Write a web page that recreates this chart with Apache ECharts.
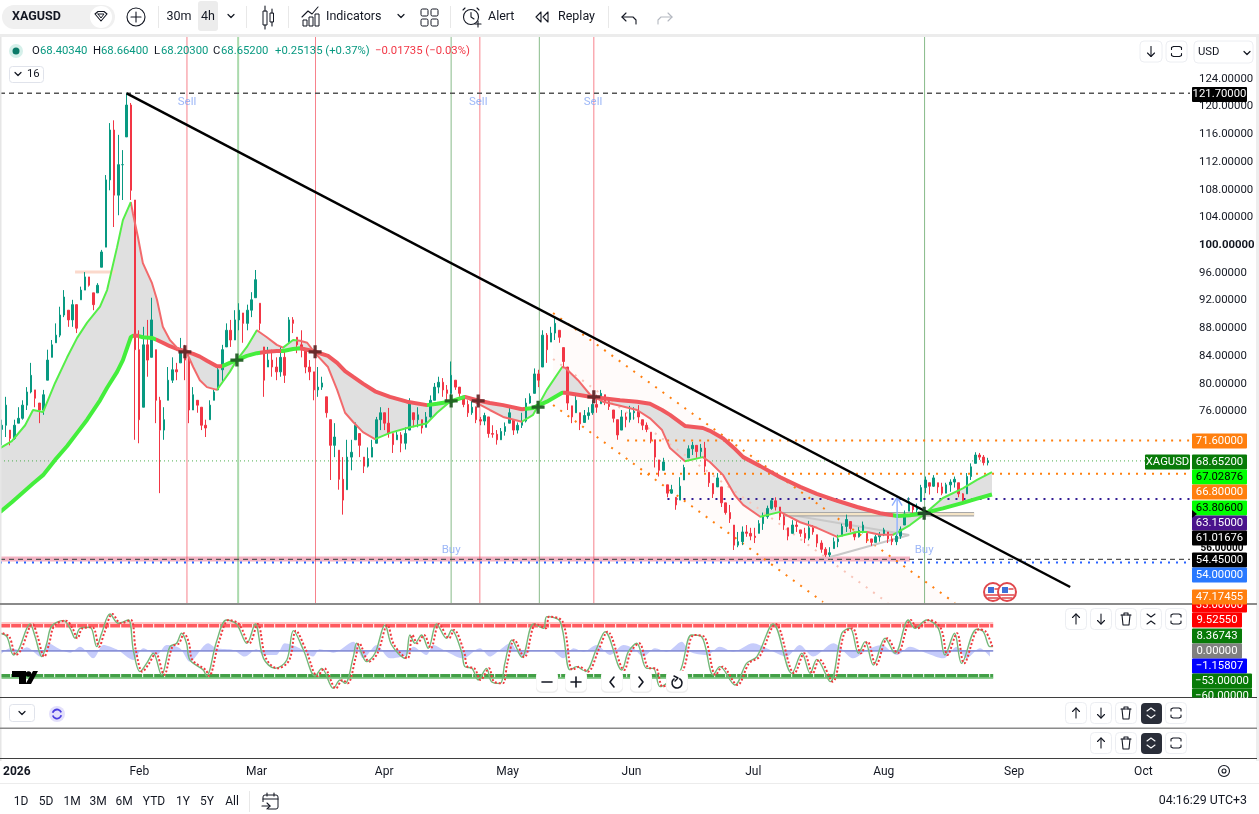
<!DOCTYPE html>
<html><head><meta charset="utf-8"><title>XAGUSD</title>
<style>html,body{margin:0;padding:0;background:#fff}#c{width:1259px;height:814px}</style>
<script src="https://cdn.jsdelivr.net/npm/echarts@6/dist/echarts.min.js"></script></head>
<body><div id="c"></div><script>
// Candles: one bar per day, first bar is day -1 (days counted from 1 Jan 2026)
const barStartDay = -1;
const barHigh = [74.6,77.9,73.1,74.6,76.4,77.4,79.3,82.8,78.9,77,78.9,84.7,86.1,88.5,90.9,93.3,90.4,91.9,91.2,93.8,95.9,95.2,92.9,94.3,99.1,109.9,117.4,117.8,115.7,113.5,121.7,120.3,106.3,87.5,88,89,92.2,84.7,77.9,76.4,82.2,83.6,82.8,86.4,85.4,84.2,79.3,77.4,76.4,74.6,77.4,78.9,82.5,85.4,88.5,89,90.4,91.4,90,91.2,93,96.2,91.4,85.1,85.1,84.7,83.6,85.1,84.7,89.4,89.4,86.5,87.5,84.7,83.2,81.5,82.2,80.8,77.9,74.6,74.1,70.2,69.2,71.7,71.7,74.2,72.6,69.2,70.6,71.7,75,76.4,75.6,76.3,72.6,73.1,72.8,73.5,77.7,75.6,76.4,74.6,75.7,78.1,79.9,80.8,80.6,79.6,83,80.3,79.3,78,77.4,77.4,76.5,75,75.6,75,73.8,73.1,73.4,74.2,76.4,74.6,74.2,75.6,77.7,78.4,82,81.8,87.5,87.1,88,89.5,87.5,85,82.2,76.6,78.4,75.6,76,76.4,77.4,78.2,78.9,78.2,77.4,76,74.6,76,75.6,76.6,76.4,76.7,74.6,74.2,72.8,71.7,68.8,69.1,65.2,65.2,63.4,66.3,68.1,70.9,71.4,70.9,71.1,71.4,67,65.4,66.9,64.9,62.6,62.3,59.4,58.4,59.2,59.4,59,59,60.1,61.2,62.2,63.3,63.4,62,61,59,60.1,60.1,58.7,59,60,59.4,58,57.2,56.2,56.2,57.6,58,59.6,60.9,59.9,58.4,59.1,59.9,58.2,57.4,58,58.4,59,58.4,57.8,58.4,59.2,61.5,63.4,62.2,62.5,65.2,66.4,65.5,66.6,65.5,65.5,65.5,66,66.4,65.5,64,66.9,68.3,69.9,69.8,69.5,69.1];
const barLow = [70.9,72.1,70.9,71.7,74.1,74.6,76,78.4,76.4,74.1,75.3,80.3,83.6,85.7,86.5,89.4,88,88,87.1,91.9,93.3,93.8,90.4,92.9,96.6,99.5,107.7,102.4,104.1,106.3,115.4,106.3,71.7,71.2,76.4,80.8,83.6,74.1,64,71.7,77.4,79.9,80.3,82.8,80.3,74.1,76,75.6,73.1,72.1,74.6,77.4,78.9,79.9,85.1,85.1,86.1,87.5,85.7,87.5,89.4,92.2,87.5,77.9,82.2,80.8,80.3,80.8,79.9,85.7,87.1,84.2,83.6,81.3,80.3,77.4,77.9,78.9,74.9,65.9,69.2,64.5,60.9,64.5,67.3,71.7,69.2,66.9,67.7,69.2,71.2,73.1,73.1,72,69.8,71.7,69.9,70.3,73.1,73.5,73.5,72.6,73.5,74.9,77.4,78.4,77.9,77,77.4,78.9,77.9,76.4,75,75.3,74.1,73.8,73.8,72,72,71,71.7,72.3,74.1,72.4,72.6,73.4,74.2,76.9,78.4,79.3,82.2,82.8,85.8,86.1,85.7,82.2,76,74.1,75.6,73.1,74.2,74.6,75.3,75.6,76.9,76.7,76,74.2,71.7,73.1,73.5,74.2,74.6,74.1,73.1,72.8,71.2,67.7,66.4,67.3,63.4,63.9,61.6,63,65.9,69.1,69.5,69.1,69.1,67,64.9,63.3,64.9,62,60.9,59.7,55.8,56.2,56.5,57.7,57.2,56.8,58.2,58.7,60.3,61.6,61.5,60.1,58.7,57.2,58.2,58.4,57.7,56.8,57.2,58,56.2,55.4,54.8,54.8,56,56.2,57.8,58.4,58.4,57.2,57.6,58.2,56.8,56.4,56.9,57,57.8,56.8,56.5,56.5,57.4,59.4,61.4,61,61.1,62.8,64,63.8,64.9,64,63.7,64,64.2,64.8,63.4,62.4,63.9,65.9,68.3,68.8,68,68];
const barClose = [73.8,76.7,71.9,73.8,74.8,76.7,78.6,81,77.7,76,78.2,83.2,85.4,86.8,89.7,92.3,89,91.2,87.8,93.3,95.2,94,91.2,94,98.8,109.2,116.4,107,111.4,111.4,120,107.7,84.7,74.6,85.4,83.2,89,77.4,73.1,74.6,80.3,81.8,81.5,84.7,83.2,76,78.2,76.7,73.8,73.4,76.7,78.6,81.8,84.7,87.5,86.1,89,90.4,88.5,90.4,91.9,94.8,88.5,80.3,83.2,82.2,81.5,83.6,81,89,88.5,85.4,84.7,82.2,81.5,78.9,79.3,79.9,75.6,70.9,72.1,66,63,69.2,69.9,73.8,70.9,67.9,69,70.6,74.6,75.6,74.1,72.6,71,72.4,71.2,72.6,77,74.6,75.3,73.4,75,77.4,79.3,80,78.9,78.4,81,79.3,78.4,76.8,75.6,76.4,74.6,74.4,75.2,72.6,72.5,71.7,72.9,73.6,75.6,73.1,73.8,74.4,77,78,81.2,80.3,86.8,84.7,87.1,88.5,86.5,83,77,75,77.4,74,75.2,75.6,76.8,76.4,78.4,77.2,76.5,74.8,72.4,75,74.6,75.6,75.8,75,73.8,73.2,71.7,69.2,67.3,68.5,64,64.5,62.3,65,67.7,70.4,70.9,70,70.5,67.9,65.5,63.9,66.2,62.6,61.2,60.3,56.5,57,58.4,58.2,57.8,57.6,59.6,60.6,61.8,62.9,62,60.6,59.4,57.8,59.4,59.2,58.2,57.5,59,58.4,56.8,55.9,55.1,55.4,57,57.4,59.2,60.2,58.9,57.7,58.6,59.4,57.4,56.9,57.7,58,58.7,57.4,57,57.8,58.8,61,62.8,61.6,62,64.8,65.9,65,66.2,64.9,64,65.2,65.6,66,63.9,62.9,66.4,67.8,69.5,69.2,68.4,68.65];

// Moving averages (shared day knots)
const maDays = [-1.4,1.4,4.6,6.5,8.9,11.8,14.7,17.1,19.5,22.6,24.3,26.7,28.1,30,30.5,31.7,32.9,35.1,36.3,37.7,39.4,41.1,43.5,45,46.6,48.3,50.7,51.9,53.8,55.5,57.9,60.3,62.7,65.1,66.6,69,70.7,72.4,74.3,77.4,79.6,81.5,83.4,85.8,88.7,92.3,96.4,101.2,103.6,106.7,110.3,113.2,116.3,119.5,124,126.7,130,133.7,134.4,137.5,140.4,143.5,147.6,151.7,154.8,157.7,159.6,163.2,167.5,169.2,172.4,175.2,177.2,181.3,186.1,190.9,194.9,199.8,204.6,207,210.1,213.2,214.2,217.3,220.4,225.2,230,233.4,237];
const maFast = [70.5,71.5,73.8,76,75.7,79.9,83.6,86.4,88.6,90.9,93.3,99.5,103.4,106,104.4,101,97.2,94.3,91.9,88,86.1,85,84.2,82.2,80.3,79.3,78.9,79.9,81.5,83.2,85.1,87.5,86.5,85.4,85,86.1,86,85.7,84.2,82.2,78.9,75.6,74.3,72.8,71.8,72.7,73.4,74.1,75.6,77.2,77.9,77,76,75,74.3,75.3,78.9,82.2,82.1,80.3,78.2,77.2,76.6,76,74.8,73.1,70.5,68.6,69.2,68.5,66.6,63.7,62.3,60.6,61.3,59.8,59,57.7,58.4,58.4,58,58,58.3,59.4,60.8,63.3,64.7,65.9,67.03];
const maSlow = [61.3,62.7,64.4,65.4,66.6,68.8,70.8,72.7,74.6,77.4,79.2,81.5,83.2,86.5,86.7,86.7,86.5,86.4,86.1,85.7,85.2,84.8,84.4,84.1,83.7,83.1,82.3,82.3,82.8,83.2,83.8,84.2,84.4,84.5,84.5,84.8,84.9,84.7,84.4,83.8,82.8,81.6,80.8,79.8,78.7,77.9,77.2,76.7,76.9,77.2,77.9,77.4,77,76.7,76.1,76.3,77.2,78.5,78.5,78.2,77.9,77.7,77.4,77.2,76.9,76,75.3,73.7,73.4,73,71.9,70.4,69.2,67.9,66.3,64.9,63.9,62.9,62,61.6,61.1,60.8,60.7,60.8,61.1,61.8,62.6,63.2,63.81];
const fastGreen = [[-2,30],[50.7,60.3],[66.6,70],[88.7,110.3],[124,133.7],[163.2,167.5],[181.3,186.1],[199.8,207],[213.2,238]];
const slowGreen = [[-2,30.5],[32,36],[51.9,61],[66,70.7],[101.2,110.3],[124.7,134],[213.2,238]];

// Indicator pane
const rsiDays = [-1.4,.2,1.8,3,5.8,7,8.6,9.8,11,13.8,15.4,16.6,17.8,20.2,21.8,23,25,27,29.4,30.6,32.2,33.8,35.4,37.4,39.4,41,42.2,43.4,44.2,47.4,48.2,50.6,53,55.4,57.9,59.9,61.9,64.7,67.5,69.1,71.5,74.3,75.9,78.7,80.3,81.5,83.5,84.3,86.7,88.7,91.1,92.7,95.9,97.1,98.3,99.9,101.5,103.5,105.9,107.1,109.5,110.3,112,113.5,115.5,116.7,118.8,119.9,121.6,124,126.8,129.2,130,133.2,135.6,137.2,139.2,142,144,148,149.6,151.6,154,155.6,157.2,158.8,162,164.8,167.2,170,171.6,175.2,178,180.5,184.4,188.9,191.3,193.3,194.9,198.1,200.9,202.9,204.9,206.5,208.5,211.3,213.7,216.9,218.5,221.3,224.1,225.7,228,229.7,233.3,234.9,236.5,237.2];
const rsiValues = [20.1,14.3,-17.2,-8.6,36.1,14.3,-20.1,2.9,32.7,41.9,28.7,11.5,28.7,30.4,-2.9,20.1,53.3,37.3,43,-8.6,-45.9,-31.6,-14.3,-51.6,-2.9,2.9,20.1,2.9,-25.8,-43,-53.4,5.7,43,36.1,2.9,36.1,-23,-40.2,-25.8,24.7,-8.6,-53.4,-40.2,-74.6,-60.2,-66,-20.1,2.9,-28.7,-14.3,34.4,0,-23,17.2,2.9,17.2,-5.7,36.1,11.5,25.8,-11.5,-37.3,-40.2,-60.2,-40.2,-63.1,-66,-31.6,8.6,-21.2,36.1,28.7,48.8,40.2,-43,-37.3,-45.9,-5.7,22.9,-43,-11.5,2.9,-40.2,-40.2,-71.7,-66,-45.9,17.2,14.3,-51.6,-37.3,-68.8,-31.6,-20.1,36.1,-48.8,-14.3,-48.8,-24.7,-63.1,20.1,28.7,-14.3,5.7,-34.4,11.5,-14.3,43,28.7,43,28.7,-17.2,20.1,-31.6,27,23,-2.9,-2.9];
const signalLagDays = 0.6;
const oscDays = [-1.4,1,3.4,5,8.2,10.2,13,15.4,17.8,21,23.4,26.6,30.6,33,36.2,38.6,41.8,44.2,48.6,50.6,54.6,57.4,60.2,61.8,65,67,70.6,73.8,75.4,78.7,83.5,85.9,89.1,92.3,96.3,97.9,101.1,102.7,105.9,109.9,113.9,116.3,118.7,121.2,124,126.8,130.8,134,136.4,138.8,142,145.2,148.4,150.8,153.2,156,158.8,162.4,164.4,168.4,171.6,174.8,179.6,182.8,187.6,190.8,194,198.9,203.7,206.9,210.5,214.1,217.3,221.3,225.3,228.5,230.9,234.1,236.5];
const oscValues = [-17.2,-5.7,-8.6,-4,-20,2.9,-7.5,-13.2,-2.9,-23,0,-7.5,-25.8,-5.7,-17.2,0,-5.7,-28.7,2.9,-5.7,-8.6,-20,-7.5,-17.2,-17.2,2.9,-5.7,-20,-7.5,-13.2,5.7,-23,0,-23,-17.2,-2.9,-17.2,0,-11.5,-23,-5.7,-20,-8.6,2.9,-20,-8.6,-8.6,-23,-5.7,-11.5,0,-17.2,0,-5.7,-20,-5.7,-11.5,5.7,-11.5,-17.2,-2.9,-11.5,2.9,-5.7,-20,0,-20,2.9,-23,-8.6,0,-17.2,-2.9,-14.3,-23,-2.9,-23,-5.7,-20];
const oscMid = -10.2, upperBand = 33, upperPale = 38, lowerBand = -53, lowerPale = -57;

// Levels and drawings, [day, price]
const firstDay = -1.44, lastDay = 284.6;
const topLevel = 121.7, resistA = 71.6, resistB = 66.8, pivot = 63.15, lastPrice = 68.652, supportA = 54.45, supportB = 54;
const trendLine = [[29,121.7],[255.8,50.46]];
const channelUpper = [[131.5,89.99],[228.1,48.15]];
const channelMiddle = [[131.5,83.36],[212,48.15]];
const channelLower = [[131.5,76.72],[196.4,48.29]];
const triangleLow = [[198.1,54.78],[217.1,57.96]];
const triangleTop = [[187.3,60.99],[217.1,57.96]];
const arrowShaft = [[214.2,57.96],[214.2,63.4]];
const arrowHead = [[213,62.2],[214.2,63.4],[215.4,62.2]];
const box = [[186.8,60.97],[232.7,60.97]];
const supportBand = [[-1.44,54.5],[217.3,54.5]];
const paleMark = [[16.6,95.9],[26.2,95.9]];
const crossPoints = [[43,84.4],[55.5,83.2],[74.3,84.4],[107,77.3],[113.5,77.3],[127.9,76.4],[141.3,77.9],[220.7,61.1]];
const crossColors = ['#5e2626','#1e5a22','#5e2626','#1e5a22','#5e2626','#1e5a22','#5e2626','#22442a'];
const redVerticals = [43.5,74.4,113.9,141.3];
const greenVerticals = [107,128.2,220.8];
const wideGreenVerticals = [55.8];
const sellPoints = [[43.5,120.4],[113.5,120.4],[141.1,120.4]];
const buyPoints = [[107,55.8],[220.7,55.8]];

const tickPrices = [124,120,116,112,108,104,100,96,92,88,84,80,76];
const monthNames = ['2026','Feb','Mar','Apr','May','Jun','Jul','Aug','Sep','Oct'];
const monthDays = [0.4,30.1,58.5,89.4,119.3,149.3,178.8,210.4,242,273.3];

const tagTexts = ['71.60000','68.65200','67.02876','66.80000','63.80600','63.15000','61.01676','54.45000','54.00000'];
const tagFills = ['#ff7f0e','#087a08','#00ff00','#ff7f0e','#00ff00','#4a148c','#000000','#000000','#2979ff'];
const tagInks = ['#fff','#fff','#000','#fff','#000','#fff','#fff','#fff','#fff'];
const tagRows = [441,462,477,492,508,523,538,560,575];
const oscTagTexts = ['33.00000','47.17455','9.52550','8.36743','0.00000','\u22121.15807','\u221253.00000','\u221260.00000'];
const oscTagFills = ['#ff0000','#ff7f0e','#ff0000','#087a08','#808080','#0000ff','#087a08','#087a08'];
const oscTagRows = [605,597,620,636,651,666,681,696];
const oscTagWidths = [55,55,50,50,50,55,60,60];
const rangeNames = ['1D','5D','1M','3M','6M','YTD','1Y','5Y','All'];
const rangeCenters = [21,46,72,98,124,154,183,207,232];

const TEAL='#089981', RED='#f23645', INK='#131722', F='Roboto,"Noto Sans",sans-serif', SMALL='11.3px '+F;
const g=[]; let Z=100;
const R=(x,y,w,h,fill,stroke,r)=>g.push({type:'rect',silent:true,z:Z,shape:{x,y,width:w,height:h,r:r||0},style:{fill:fill||'none',stroke:stroke||'none',lineWidth:1}});
const C=(cx,cy,r,fill,stroke,lw)=>g.push({type:'circle',silent:true,z:Z,shape:{cx,cy,r},style:{fill:fill||'none',stroke:stroke||'none',lineWidth:lw||1}});
const L=(pts,stroke,lw,fill)=>g.push({type:fill?'polygon':'polyline',silent:true,z:Z,shape:{points:pts},style:{stroke:stroke||'none',lineWidth:lw||1.1,fill:fill||'none',lineCap:'round',lineJoin:'round'}});
const T=(text,x,y,fill,font,align)=>g.push({type:'text',silent:true,z:Z,x,y,style:{text,fill:fill||INK,font:font||('12.5px '+F),align:align||'left',verticalAlign:'middle',textAlign:align||'left',textVerticalAlign:'middle'}});
function btn(x,y,w,h){R(x-w/2,y-h/2,w,h,'#fff','#eceef2',4)}
function upA(x,y){L([[x,y+5],[x,y-5]],INK);L([[x-3.5,y-1.5],[x,y-5],[x+3.5,y-1.5]],INK)}
function dnA(x,y){L([[x,y-5],[x,y+5]],INK);L([[x-3.5,y+1.5],[x,y+5],[x+3.5,y+1.5]],INK)}
function trash(x,y){L([[x-5,y-4],[x+5,y-4]],INK);L([[x-2,y-4],[x-2,y-6],[x+2,y-6],[x+2,y-4]],INK);L([[x-4,y-4],[x-3,y+6],[x+3,y+6],[x+4,y-4]],INK)}
function maxi(x,y){L([[x-5,y-2],[x-5,y-4],[x-3,y-5],[x+3,y-5],[x+5,y-4],[x+5,y-2]],INK);L([[x-5,y+2],[x-5,y+4],[x-3,y+5],[x+3,y+5],[x+5,y+4],[x+5,y+2]],INK)}
function collapse(x,y){L([[x-4,y-5],[x,y-2],[x+4,y-5]],INK);L([[x-4,y+5],[x,y+2],[x+4,y+5]],INK)}
function expandW(x,y){L([[x-4,y-2],[x,y-5],[x+4,y-2]],'#fff');L([[x-4,y+2],[x,y+5],[x+4,y+2]],'#fff')}
function chev(x,y,col){L([[x-3,y-1.5],[x,y+1.5],[x+3,y-1.5]],col||INK,1.2)}

// backgrounds / separators
R(0,34,1259,3,'#ececec');R(0,37,1.5,724,'#e6e6e6');R(1256,37,3,724,'#eeeeee');
R(0,603,1257,2,'#8a8a8a');R(0,697,1257,1,'#3f3f3f');R(0,727.5,1257,1.5,'#8a8a8a');R(0,758,1257,1,'#3f3f3f');R(0,783,1259,1,'#ececec');

// toolbar
R(2,5,113,24,'#f0f0f0',null,12);T('XAGUSD',12,17,INK,'bold 12.5px '+F);
C(101,17,11,'#fff');L([[95,14],[98,11.5],[104,11.5],[107,14],[101,21],[95,14]],INK,1.1);L([[98,14],[104,14],[101,18],[98,14]],INK,1);
C(136,17,9,null,INK,1.1);L([[131,17],[141,17]],INK);L([[136,12],[136,22]],INK);
R(158,6,1,22,'#e8e8e8');T('30m',179,17,INK,'12.5px '+F,'center');
R(198,1,20,30,'#ececec',null,3);T('4h',208,17,INK,'12.5px '+F,'center');chev(231,16);R(246,6,1,22,'#e8e8e8');
R(263,11,4,14,'none',INK);L([[265,6],[265,11]],INK);L([[265,25],[265,29]],INK);R(270,13,3.5,9,'none',INK);L([[272,9],[272,13]],INK);L([[272,22],[272,26]],INK);
R(288,6,1,22,'#e8e8e8');
L([[302,17],[308,11],[312,14],[318,7]],INK);R(303,20,4,6,'none',INK);R(309,17,4,9,'none',INK);R(315,14,4,12,'none',INK);
T('Indicators',326,17);chev(401,16);
[[421,9],[431,9],[421,19],[431,19]].forEach(p=>R(p[0],p[1],7,7,'none',INK,1.5));R(450,6,1,22,'#e8e8e8');
C(471,17,7.5,null,INK,1.1);L([[471,12.5],[471,17],[474,19]],INK);L([[463,10],[465,8]],INK);L([[477,8],[479,10]],INK);L([[475,24],[481,24]],INK);L([[478,21],[478,27]],INK);T('Alert',488,17);
L([[541,12],[536,17],[541,22],[541,12]],INK);L([[548,12],[543,17],[548,22],[548,12]],INK);T('Replay',558,17);R(608,6,1,22,'#e8e8e8');
L([[626,13],[622,17],[626,21]],INK);L([[622,17],[633,17],[636,20],[636,24]],INK);
L([[668,13],[672,17],[668,21]],'#b4b8c0');L([[672,17],[661,17],[658,20],[658,24]],'#b4b8c0');

// top status line
C(16,51,7,'#d5f0ea');C(16,51,3.5,'#0b7a68');
T('O',32,51,INK,SMALL);T('68.40340',40,51,TEAL,SMALL);T('H',93,51,INK,SMALL);T('68.66400',101,51,TEAL,SMALL);T('L',154,51,INK,SMALL);T('68.20300',161,51,TEAL,SMALL);T('C',213,51,INK,SMALL);T('68.65200',221,51,TEAL,SMALL);
T('+0.25135 (+0.37%)',275,51,TEAL,SMALL);T('\u22120.01735 (\u22120.03%)',375,51,RED,SMALL);
R(9.5,66.5,34,16,'#fff','#e0e3eb',3);chev(18,74);T('16',27,74,INK,SMALL);

// main pane buttons
btn(1151,51.5,22,21);dnA(1151,51.5);btn(1176.5,51.5,21,21);maxi(1176.5,51.5);R(1194,41,59,22,'#fff','#eceef2',4);T('USD',1198,52,INK,SMALL);chev(1247,53);

// flags
[[993,592],[1007,592]].forEach(p=>{C(p[0],p[1],9,'#fff','#e0474c',2);L([[p[0]-7,p[1]+3],[p[0]+7,p[1]+3]],'#e0474c',1.5);L([[p[0]-5,p[1]+6],[p[0]+5,p[1]+6]],'#e0474c',1.5);R(p[0]-5,p[1]-5,6,6,'#3f6fd8');L([[p[0]+2,p[1]-3],[p[0]+6,p[1]-3]],'#e0474c',1.5)});

// tags on the price axis
R(1196,544,52,9,'#fff');T('56.00000',1222,548,'#000','bold 10px '+F,'center');
tagTexts.forEach((t,i)=>{R(1192,tagRows[i]-7.5,55,15,tagFills[i],null,1);T(t,1219.5,tagRows[i],tagInks[i],SMALL,'center')});
R(1192,87,55,15,'#000',null,1);T('121.70000',1219.5,94,'#fff',SMALL,'center');
R(1145,454.5,45,15,'#087a08',null,1);T('XAGUSD',1167.5,462,'#fff',SMALL,'center');
L([[1192,510],[1197,514],[1192,518]],null,1,'#000');
oscTagTexts.forEach((t,i)=>{const h=oscTagRows[i]>690?1:0;R(1192,oscTagRows[i]-7.5,oscTagWidths[i],h?9:15,oscTagFills[i],null,1);T(t,1192+oscTagWidths[i]/2,oscTagRows[i],'#fff',SMALL,'center')});
R(0,603.6,1191,1.2,'#8a8a8a');

// indicator buttons
[1076,1101,1126,1151,1176].forEach(x=>btn(x,619,21,21));upA(1076,619);dnA(1101,619);trash(1126,619);collapse(1151,619);maxi(1176,619);
[1076,1101,1126].forEach(x=>btn(x,713,21,21));R(1141,703,21,21,'#2a2e39',null,4);upA(1076,713);dnA(1101,713);trash(1126,713);expandW(1151,713);btn(1176,713,21,21);maxi(1176,713);
[1101,1126].forEach(x=>btn(x,743,21,21));R(1141,733,21,21,'#2a2e39',null,4);upA(1101,743);trash(1126,743);expandW(1151,743);btn(1176,743,21,21);maxi(1176,743);

// navigation
[547,576,612,641,677].forEach(x=>{R(x-11,671,22,22,'#eee',null,5);R(x-10.5,670.5,21,21,'#fff',null,5)});
L([[542,682],[552,682]],INK,1.6);L([[571,682],[581,682]],INK,1.6);L([[576,677],[576,687]],INK,1.6);L([[614,677],[610,682],[614,687]],INK,1.6);L([[639,677],[643,682],[639,687]],INK,1.6);
g.push({type:'arc',silent:true,z:Z,shape:{cx:677,cy:683,r:5,startAngle:-1.1,endAngle:4.2},style:{stroke:INK,lineWidth:1.6,fill:'none'}});L([[674,676],[678,678],[675,681]],INK,1.4);

// TV logo
L([[12,671],[26,671],[26,684],[19,684],[19,677],[12,677]],null,1,'#000');C(28.5,674,2.8,'#000');L([[33,671],[38,671],[31,684],[25.5,684]],null,1,'#000');

// lower pane controls
R(9.5,704.5,25,17,'#fff','#e0e3eb',3);chev(22,713);
C(57,714,8,'#e3e0fb');g.push({type:'arc',silent:true,z:Z,shape:{cx:57,cy:714,r:4.5,startAngle:3.4,endAngle:5.9},style:{stroke:'#4a3ee0',lineWidth:1.8,fill:'none'}});g.push({type:'arc',silent:true,z:Z,shape:{cx:57,cy:714,r:4.5,startAngle:0.3,endAngle:2.8},style:{stroke:'#4a3ee0',lineWidth:1.8,fill:'none'}});

// bottom row
rangeNames.forEach((t,i)=>T(t,rangeCenters[i],802,INK,'12px '+F,'center'));
R(249,791,1,21,'#e8e8e8');
R(263,795,15,14,'none',INK,2);L([[263,799],[278,799]],INK);L([[267,793],[267,796]],INK);L([[274,793],[274,796]],INK);R(262,802,6,8,'#fff');L([[262,806],[270,806]],INK);L([[267,803],[270,806],[267,809]],INK);
T('04:16:29 UTC+3',1247,801,INK,'12.4px '+F,'right');
C(1224,771,5.5,null,INK,1.1);C(1224,771,2,null,INK,1.1);

const seg=(data,color,width,type,z,extra)=>Object.assign({type:'line',xAxisIndex:0,yAxisIndex:0,data,showSymbol:false,symbol:'none',silent:true,animation:false,z:z||5,lineStyle:{color,width,type:type||'solid'}},extra||{});
const dotted=[2,6];
const candleRows=barClose.map((c,i)=>{const prev=i?barClose[i-1]:c-0.6;const o=Math.min(barHigh[i],Math.max(barLow[i],prev));return [barStartDay+i,o,c,barLow[i],barHigh[i]]});
const zip=(a,b)=>a.map((v,i)=>[v,b[i]]);
const pieces=(gr,lo,hi)=>{const out=[];let cur=lo;gr.forEach(r=>{if(r[0]>cur)out.push({gte:cur,lt:r[0],color:'R'});out.push({gte:r[0],lt:r[1],color:'G'});cur=r[1]});if(cur<hi)out.push({gte:cur,lte:hi,color:'R'});return out};
const col=(ps,gc,rc)=>ps.map(p=>Object.assign({},p,{color:p.color==='G'?gc:rc}));

const series=[];
// polygon fills
series.push({type:'custom',xAxisIndex:0,yAxisIndex:0,z:1,silent:true,animation:false,data:[[100,70]],renderItem:(p,api)=>{
 const pts=channelUpper.concat([[196.4,48.15]]).concat(channelLower.slice().reverse()).map(q=>api.coord(q));
 return {type:'polygon',shape:{points:pts},style:{fill:'rgba(255,232,224,0.16)'}}}});
series.push({type:'custom',xAxisIndex:0,yAxisIndex:0,z:2,silent:true,animation:false,data:[[100,70]],renderItem:(p,api)=>{
 const pts=maDays.map((d,i)=>api.coord([d,maFast[i]])).concat(maDays.map((d,i)=>api.coord([d,maSlow[i]])).reverse());
 return {type:'polygon',shape:{points:pts},style:{fill:'#e0e0e0'}}}});
// levels
series.push(seg([[firstDay,lastPrice],[lastDay,lastPrice]],'#4caf50',1,[1,3],2));
series.push(seg(supportBand,'#f3b3c3',5,'solid',2));
series.push(seg([[firstDay,topLevel],[lastDay,topLevel]],'#555',1.4,[5,4],3));
series.push(seg([[149.3,resistA],[lastDay,resistA]],'#ff7f0e',2,dotted,3));
series.push(seg([[152.4,resistB],[lastDay,resistB]],'#ff7f0e',2,dotted,3));
series.push(seg([[159,pivot],[lastDay,pivot]],'#311b92',2,dotted,3));
series.push(seg([[firstDay,supportA],[lastDay,supportA]],'#555',1.4,[5,4],3));
series.push(seg([[firstDay,supportB],[lastDay,supportB]],'#2962ff',2,dotted,3));
series.push(seg(channelUpper,'#ff7f0e',2,[2,7],3));
series.push(seg(channelLower,'#ff7f0e',2,[2,7],3));
series.push(seg(channelMiddle,'#f8c4b8',2,[2,7],3));
series.push(seg(paleMark,'#fbd9cc',3,'solid',3));
series.push(seg(triangleLow,'#c9c9c9',2,'solid',3));
series.push(seg(triangleTop,'#c9c9c9',2,'solid',3));
series.push(seg(box,'#a8a8a8',4.5,'solid',3));
series.push(seg(box,'#f4e4c6',2.2,'solid',3));
// verticals, each its own two-point line
const vline=(d,color,width)=>seg([[d,48.15],[d,129.82]],color,width,'solid',2);
redVerticals.forEach(d=>series.push(vline(d,'rgba(242,54,69,0.62)',1)));
greenVerticals.forEach(d=>series.push(vline(d,'rgba(56,142,60,0.6)',1)));
wideGreenVerticals.forEach(d=>series.push(vline(d,'rgba(102,187,106,0.55)',2)));
// candles
series.push({type:'candlestick',xAxisIndex:0,yAxisIndex:0,z:4,silent:true,animation:false,barWidth:2,large:false,encode:{x:0,y:[1,2,3,4]},data:candleRows,
 itemStyle:{color:TEAL,color0:RED,borderColor:TEAL,borderColor0:RED,borderWidth:1}});
// moving averages: colours come from the visual map
const slowIdx=series.length;
series.push({type:'line',xAxisIndex:0,yAxisIndex:0,data:zip(maDays,maSlow),showSymbol:false,symbol:'none',silent:true,animation:false,z:5,lineStyle:{width:4}});
const fastIdx=series.length;
series.push({type:'line',xAxisIndex:0,yAxisIndex:0,data:zip(maDays,maFast),showSymbol:false,symbol:'none',silent:true,animation:false,z:5,lineStyle:{width:2}});
// drawings on top
series.push(seg(arrowShaft,'#8fb0ff',1.4,'solid',6));
series.push(seg(arrowHead,'#8fb0ff',1.4,'solid',6));
series.push(seg(trendLine,'#000',2.5,'solid',7));
series.push({type:'scatter',xAxisIndex:0,yAxisIndex:0,z:8,silent:true,animation:false,symbol:'path://M3,0h2v3h3v2h-3v3h-2v-3h-3v-2h3z',symbolSize:13,
 data:crossPoints.map((p,i)=>({value:p,itemStyle:{color:crossColors[i],opacity:.92}}))});
const lab=(pts,t)=>({type:'scatter',xAxisIndex:0,yAxisIndex:0,z:8,silent:true,animation:false,symbolSize:1,itemStyle:{color:'rgba(0,0,0,0)'},data:pts,
 label:{show:true,position:'inside',formatter:t,color:'#86a6f5',fontFamily:F,fontSize:11.5}});
series.push(lab(sellPoints,'Sell'));series.push(lab(buyPoints,'Buy'));
// indicator pane
const i1={xAxisIndex:1,yAxisIndex:1};
const band=(v,c,w,t,z)=>Object.assign(seg([[-1.4,v],[237.3,v]],c,w,t,z),i1);
series.push(Object.assign(seg(zip(oscDays,oscValues),'rgba(0,0,0,0)',0,'solid',1),i1,{areaStyle:{color:'#c6ccfb',opacity:1,origin:oscMid},smooth:.3}));
series.push(band(upperPale,'#ffb3b3',1.5,'solid',2));series.push(band(upperBand,'#ff5a5f',3.4,[10,1],2));
series.push(band(lowerBand,'#43a047',3.4,[10,1],2));series.push(band(lowerPale,'#66bb6a',1.5,'solid',2));
series.push(band(oscMid,'#8a92d8',1.6,'solid',2));
series.push(Object.assign(seg(zip(rsiDays,rsiValues),'#74b87a',1.4,'solid',3),i1,{smooth:.35}));
series.push(Object.assign(seg(rsiDays.slice(0,-1).map((d,i)=>[d+signalLagDays,rsiValues[i]]),'#f03a3f',2,[2,2],4),i1,{smooth:.35}));
// empty pane carrying the time axis
series.push({type:'line',xAxisIndex:2,yAxisIndex:2,data:[],silent:true});

const xBase={type:'value',min:firstDay,max:lastDay,splitLine:{show:false},axisLine:{show:false},axisTick:{show:false},axisLabel:{show:false},axisPointer:{show:false}};
const option={animation:false,backgroundColor:'#fff',graphic:{elements:g},tooltip:{show:false},
 grid:[{left:0,right:69,top:37,height:566},{left:0,right:69,top:605,height:92},{left:0,right:69,top:729,height:29}],
 xAxis:[Object.assign({},xBase,{gridIndex:0}),Object.assign({},xBase,{gridIndex:1}),
  Object.assign({},xBase,{gridIndex:2,axisLabel:{show:true,customValues:monthDays,align:'center',margin:8,color:INK,fontFamily:F,fontSize:12,hideOverlap:false,
   formatter:v=>{const i=monthDays.indexOf(v);const s=i<0?'':monthNames[i];return i===0?'{b|'+s+'}':s},rich:{b:{fontWeight:'bold',fontSize:12,color:INK,fontFamily:F}}}})],
 yAxis:[{type:'value',gridIndex:0,position:'right',min:48.15,max:129.82,splitLine:{show:false},axisLine:{show:false},axisTick:{show:false},
   axisLabel:{customValues:tickPrices,margin:9,align:'left',padding:[3,0,0,0],color:INK,fontFamily:F,fontSize:11.4,formatter:v=>v===100?'{b|100.00000}':v.toFixed(5),rich:{b:{fontWeight:'bold',fontSize:11.4,color:INK,fontFamily:F}}}},
  {type:'value',gridIndex:1,min:-89.5,max:68.8,show:false},{type:'value',gridIndex:2,min:0,max:1,show:false}],
 visualMap:[
  {show:false,type:'piecewise',dimension:0,seriesIndex:fastIdx,pieces:col(pieces(fastGreen,-2,238),'#55ee48','#f26a6c')},
  {show:false,type:'piecewise',dimension:0,seriesIndex:slowIdx,pieces:col(pieces(slowGreen,-2,238),'#44ee3c','#f0585e')}],
 series};
echarts.init(document.getElementById('c'),null,{renderer:'canvas'}).setOption(option);
</script></body></html>
